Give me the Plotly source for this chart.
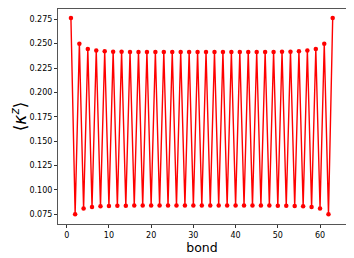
import plotly.graph_objects as go

bond = list(range(1, 64))
high_vals = [0.2762, 0.2500, 0.2445, 0.2430, 0.2422, 0.2418, 0.2416, 0.2415,
             0.2414, 0.2414, 0.2413, 0.2413, 0.2413, 0.2413, 0.2413, 0.2413,
             0.2413, 0.2413, 0.2413, 0.2413, 0.2413, 0.2413, 0.2414, 0.2414,
             0.2415, 0.2416, 0.2418, 0.2422, 0.2430, 0.2445, 0.2500, 0.2762]
low_vals = [0.0752, 0.0810, 0.0825, 0.0832, 0.0836, 0.0838, 0.0839, 0.0840,
            0.0840, 0.0841, 0.0841, 0.0841, 0.0841, 0.0841, 0.0841, 0.0841,
            0.0841, 0.0841, 0.0841, 0.0841, 0.0841, 0.0841, 0.0840, 0.0840,
            0.0839, 0.0838, 0.0836, 0.0832, 0.0825, 0.0810, 0.0752]
x_ticks = [0, 10, 20, 30, 40, 50, 60]
y_ticks = [0.075, 0.100, 0.125, 0.150, 0.175, 0.200, 0.225, 0.250, 0.275]

kappa = []
for i in range(len(high_vals)):
    kappa.append(high_vals[i])
    if i < len(low_vals):
        kappa.append(low_vals[i])

fig = go.Figure(go.Scatter(
    x=bond, y=kappa, mode="lines+markers",
    line=dict(color="#ff0000", width=1.4),
    marker=dict(color="#ff0000", size=4.5),
    cliponaxis=False,
))

axis_common = dict(showgrid=False, zeroline=False, showline=True, mirror=True,
                   linecolor="#555555", linewidth=1, ticks="outside", ticklen=3,
                   tickcolor="#333333", automargin=False,
                   tickfont=dict(family="DejaVu Sans", size=8, color="#000000"))

# page body adds an 8px offset, so the figure is sized to fit the remaining window
fig.update_layout(
    width=346, height=250,
    margin=dict(l=50, r=8, t=1, b=34),
    plot_bgcolor="white", paper_bgcolor="white",
    showlegend=False,
    xaxis=dict(range=[-2.06, 66.15], tickvals=x_ticks, ticktext=[str(v) for v in x_ticks],
               title=dict(text="bond", font=dict(family="DejaVu Sans", size=12.5, color="#000"), standoff=2),
               **axis_common),
    yaxis=dict(range=[0.0651, 0.2855], tickvals=y_ticks, ticktext=[f"{v:.3f}" for v in y_ticks],
               title=dict(text="⟨<i>κ</i><sup><i>z</i></sup>⟩", font=dict(family="DejaVu Sans", size=17, color="#000"), standoff=4),
               **axis_common),
)

fig.write_html("out.html")
